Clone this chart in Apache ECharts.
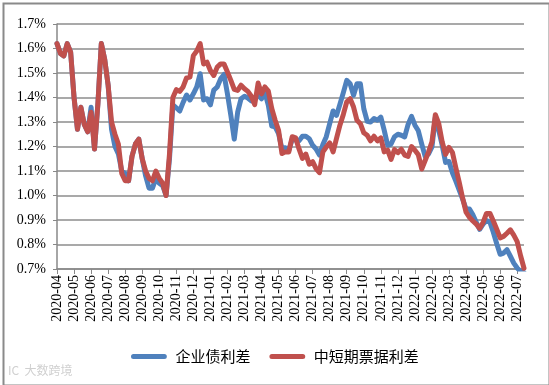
<!DOCTYPE html>
<html>
<head>
<meta charset="utf-8">
<script src="https://cdn.jsdelivr.net/npm/echarts@6/dist/echarts.min.js"></script>
<style>
html,body{margin:0;padding:0;background:#fff;}
#chart{width:549px;height:385px;}
</style>
</head>
<body>
<div id="chart"></div>
<script>
// Month tick labels (one every 5 samples)
var months = ['2020-04','2020-05','2020-06','2020-07','2020-08','2020-09','2020-10','2020-11','2020-12',
  '2021-01','2021-02','2021-03','2021-04','2021-05','2021-06','2021-07','2021-08','2021-09','2021-10',
  '2021-11','2021-12','2022-01','2022-02','2022-03','2022-04','2022-05','2022-06','2022-07'];
var samplesPerMonth = 5;

// 企业债利差 (%)
var corpSpread = [
  1.62,1.58,1.57,1.62,1.585,1.40,1.27,1.36,1.29,1.26,
  1.36,1.19,1.375,1.62,1.555,1.45,1.27,1.20,1.17,1.10,
  1.09,1.06,1.16,1.21,1.23,1.15,1.08,1.03,1.03,1.07,
  1.05,1.04,1.00,1.15,1.37,1.358,1.345,1.38,1.41,1.39,
  1.415,1.443,1.497,1.39,1.395,1.37,1.43,1.443,1.476,1.494,
  1.415,1.327,1.23,1.34,1.395,1.405,1.398,1.386,1.40,1.409,
  1.395,1.42,1.368,1.283,1.28,1.253,1.19,1.195,1.185,1.23,
  1.226,1.223,1.242,1.242,1.232,1.205,1.19,1.165,1.208,1.24,
  1.293,1.345,1.327,1.372,1.42,1.47,1.456,1.409,1.456,1.456,
  1.354,1.303,1.30,1.314,1.307,1.32,1.266,1.205,1.21,1.24,
  1.25,1.246,1.239,1.29,1.323,1.287,1.264,1.21,1.16,1.17,
  1.198,1.32,1.266,1.205,1.135,1.139,1.093,1.059,1.022,0.985,
  0.945,0.945,0.921,0.891,0.862,0.883,0.898,0.891,0.85,0.803,
  0.76,0.765,0.779,0.752,0.724,0.704,0.69,0.685
];
// 中短期票据利差 (%)
var billSpread = [
  1.62,1.58,1.57,1.62,1.585,1.40,1.27,1.36,1.29,1.26,
  1.34,1.19,1.375,1.62,1.555,1.45,1.30,1.25,1.21,1.09,
  1.06,1.06,1.16,1.21,1.23,1.15,1.10,1.07,1.06,1.10,
  1.07,1.05,1.00,1.17,1.40,1.432,1.425,1.443,1.48,1.483,
  1.571,1.59,1.62,1.537,1.544,1.51,1.49,1.524,1.537,1.537,
  1.504,1.47,1.433,1.429,1.45,1.436,1.425,1.405,1.371,1.459,
  1.415,1.443,1.426,1.355,1.307,1.266,1.171,1.178,1.178,1.24,
  1.235,1.19,1.151,1.169,1.128,1.138,1.11,1.093,1.178,1.198,
  1.215,1.178,1.233,1.287,1.331,1.382,1.395,1.361,1.307,1.293,
  1.256,1.246,1.223,1.242,1.223,1.235,1.178,1.185,1.147,1.187,
  1.175,1.189,1.165,1.16,1.20,1.185,1.166,1.108,1.143,1.178,
  1.219,1.33,1.293,1.219,1.168,1.196,1.176,1.113,1.054,0.989,
  0.932,0.911,0.896,0.883,0.866,0.89,0.927,0.927,0.896,0.862,
  0.827,0.833,0.846,0.86,0.838,0.812,0.754,0.703
];

var seriesNames = ['企业债利差','中短期票据利差'];
var seriesColors = ['#4F81BD','#C0504D'];

var xCats = corpSpread.map(function(_, i){
  return months[Math.floor(i / samplesPerMonth)] + '#' + (i % samplesPerMonth);
});

var chart = echarts.init(document.getElementById('chart'), null, {renderer:'canvas'});
var serif = '"Liberation Serif","Times New Roman",serif';
var option = {
  animation: false,
  backgroundColor: '#fff',
  grid: {left: 57, right: 25, top: 24, bottom: 116, containLabel: false},
  xAxis: {
    type: 'category',
    boundaryGap: false,
    data: xCats,
    axisLine: {show: true, lineStyle: {color: '#888', width: 1.5}},
    axisTick: {show: true, interval: samplesPerMonth - 1, length: 5, lineStyle: {color: '#888', width: 1}},
    axisLabel: {
      interval: samplesPerMonth - 1, rotate: 90, margin: 6,
      fontFamily: serif, fontSize: 14, color: '#000',
      formatter: function(v){ return v.split('#')[0]; }
    },
    splitLine: {show: false}
  },
  yAxis: {
    type: 'value',
    min: 0.7, max: 1.7, interval: 0.1,
    axisLine: {show: true, lineStyle: {color: '#888', width: 1.5}},
    axisTick: {show: true, length: 4, lineStyle: {color: '#888'}},
    axisLabel: {
      margin: 11, fontFamily: serif, fontSize: 14, color: '#000',
      formatter: function(v){ return v.toFixed(1) + '%'; }
    },
    splitLine: {show: true, lineStyle: {color: '#8c8c8c', width: 1.5}}
  },
  legend: {
    data: seriesNames,
    left: 131, top: 349, padding: 0,
    icon: 'path://M3,0 L40,0 A3,3 0 0 1 40,6 L3,6 A3,3 0 0 1 3,0 Z',
    itemWidth: 43, itemHeight: 5, itemGap: 19,
    textStyle: {fontFamily: '"Noto Sans CJK SC",sans-serif', fontSize: 15, color: '#000'}
  },
  series: [
    {name: seriesNames[0], type: 'line', data: corpSpread, showSymbol: false, symbol: 'none',
     lineStyle: {width: 5, color: seriesColors[0], join: 'round', cap: 'round'}, itemStyle: {color: seriesColors[0]}, z: 2},
    {name: seriesNames[1], type: 'line', data: billSpread, showSymbol: false, symbol: 'none',
     lineStyle: {width: 5, color: seriesColors[1], join: 'round', cap: 'round'}, itemStyle: {color: seriesColors[1]}, z: 3}
  ],
  graphic: [
    {type: 'rect', left: 1, top: 1, shape: {x: 0, y: 0, width: 546, height: 382},
     style: {fill: 'none', stroke: '#8a8a8a', lineWidth: 2}, silent: true},
    {type: 'text', left: 8, top: 364,
     style: {text: 'IC  大数跨境', fill: '#d0d0d0', font: '12px "Noto Sans CJK SC",sans-serif'}, silent: true}
  ]
};
chart.setOption(option);
</script>
</body>
</html>
